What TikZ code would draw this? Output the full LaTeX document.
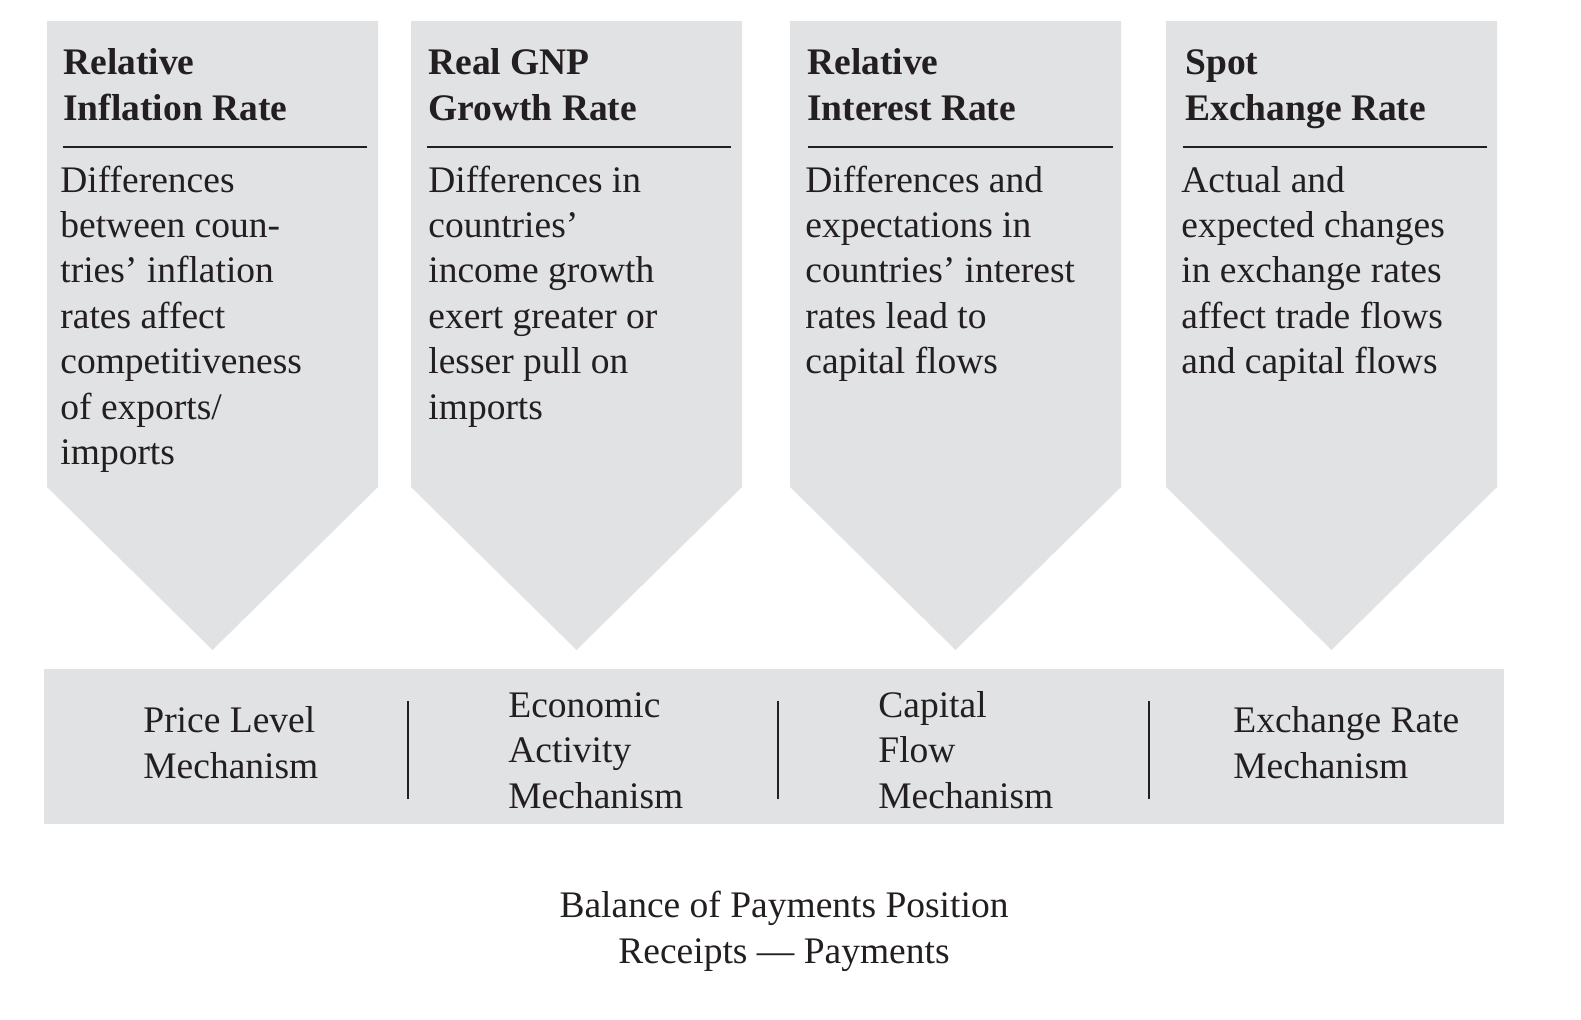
\documentclass[tikz,border=0pt]{standalone}
\usepackage{fontspec}
\setmainfont{Liberation Serif}
\usepackage{tikz}
\usepackage{xcolor}
\definecolor{boxfill}{RGB}{225,226,228}
\definecolor{ink}{RGB}{35,31,32}
\newcommand{\txtsize}{\fontsize{18.75}{22.7}\selectfont}

\begin{document}
\begin{tikzpicture}[x=0.5pt, y=-0.5pt,
    every node/.style = {inner sep=0pt, text=ink},
    head/.style = {anchor=base west, align=left, font=\txtsize\bfseries},
    body/.style = {anchor=base west, align=left, font=\txtsize},
    mech/.style = {anchor=base west, align=left, font=\txtsize},
    rule/.style = {draw=ink, line width=1pt}]
    \useasboundingbox (0,0) rectangle (1581,1019);
    %
    \fill[boxfill] (47,21) -- (378,21) -- (378,487) -- (212.5,650) -- (47,487) -- cycle;
    \fill[boxfill] (411,21) -- (742,21) -- (742,487) -- (576.5,650) -- (411,487) -- cycle;
    \fill[boxfill] (790,21) -- (1121,21) -- (1121,487) -- (955.5,650) -- (790,487) -- cycle;
    \fill[boxfill] (1166,21) -- (1497,21) -- (1497,487) -- (1331.5,650) -- (1166,487) -- cycle;
    \fill[boxfill] (44,669) rectangle (1504,824);
    %
    % base anchor = baseline of the last line
    \node[head] (t1) at (63,120) {Relative\\Inflation Rate};
    \node[head] (t2) at (428,120) {Real GNP\\Growth Rate};
    \node[head] (t3) at (807,120) {Relative\\Interest Rate};
    \node[head] (t4) at (1185,120) {Spot\\Exchange Rate};
    \draw[rule] (63,147) -- (367,147);
    \draw[rule] (427,147) -- (731,147);
    \draw[rule] (808,147) -- (1113,147);
    \draw[rule] (1183,147) -- (1487,147);
    %
    \node[body] (d1) at (60,464.4) {
        Differences\\
        between coun-\\
        tries’ inflation\\
        rates affect\\
        competitiveness\\
        of exports/\\
        imports};
    \node[body] (d2) at (428,419) {
        Differences in\\
        countries’\\
        income growth\\
        exert greater or\\
        lesser pull on\\
        imports};
    \node[body] (d3) at (805,373.6) {
        Differences and\\
        expectations in\\
        countries’ interest\\
        rates lead to\\
        capital flows};
    \node[body] (d4) at (1181,373.6) {
        Actual and\\
        expected changes\\
        in exchange rates\\
        affect trade flows\\
        and capital flows};
    %
    \node[mech] (m1) at (143,778) {Price Level\\Mechanism};
    \node[mech] (m2) at (508,808) {Economic\\Activity\\Mechanism};
    \node[mech] (m3) at (878,808) {Capital\\Flow\\Mechanism};
    \node[mech] (m4) at (1233,778) {Exchange Rate\\Mechanism};
    \draw[rule] (408,701) -- (408,799);
    \draw[rule] (778,701) -- (778,799);
    \draw[rule] (1149,701) -- (1149,799);
    %
    \node[anchor=base, align=center, font=\txtsize] (bop) at (784,963) {
        Balance of Payments Position\\
        Receipts — Payments};
\end{tikzpicture}
\end{document}
